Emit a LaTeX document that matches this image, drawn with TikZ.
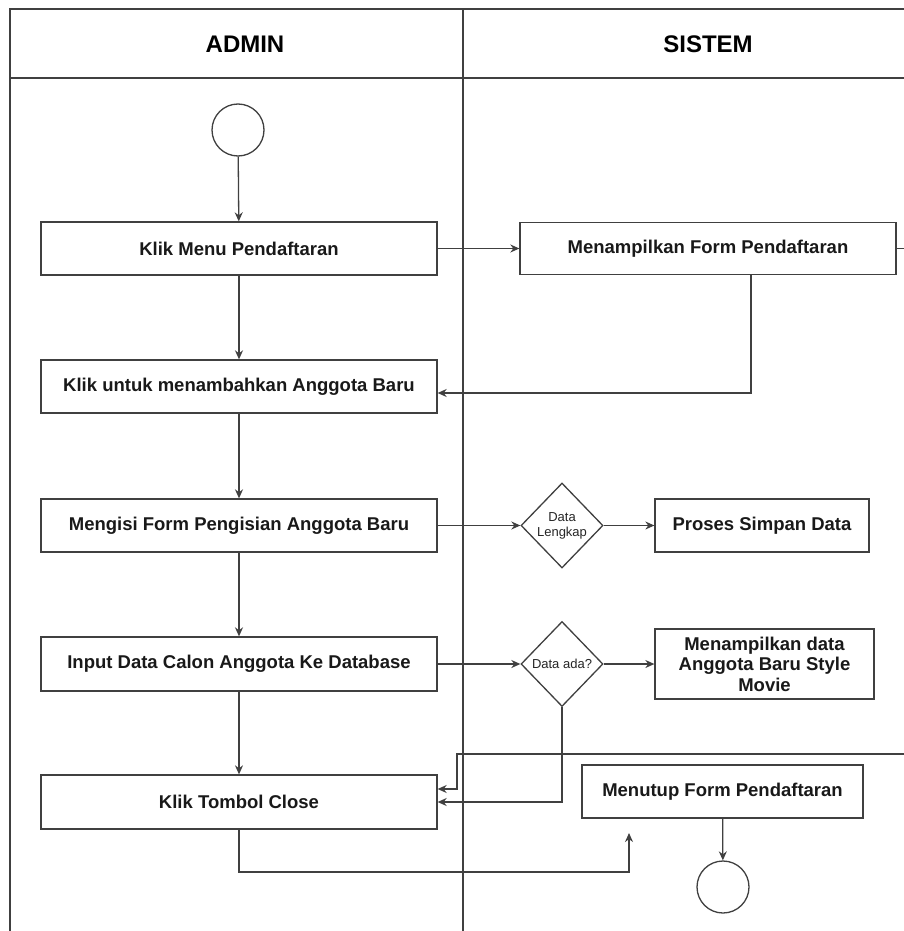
\documentclass[tikz,border=0pt]{standalone}
\usepackage{fontspec}
\setmainfont{Liberation Sans}
\usetikzlibrary{shapes.geometric,arrows.meta}
\begin{document}
\begin{tikzpicture}[x=1pt,y=-1pt,
  ln/.style={line width=1.3pt,draw=black!75},
  arr/.style={ln,-{Stealth[length=9pt,width=8pt]}},
  act/.style={draw=black!75,line width=1.3pt,rectangle,inner sep=2pt,align=center,
     font=\fontsize{18.5}{20.5}\selectfont\bfseries,text=black!90},
  dec/.style={draw=black!75,line width=1.3pt,diamond,inner sep=0pt,minimum width=82pt,
     minimum height=85pt,align=center,font=\fontsize{13}{15}\selectfont,text=black!85},
  terminal/.style={draw=black!75,line width=1.3pt,circle,minimum size=52pt,inner sep=0pt},
  hdr/.style={font=\fontsize{24}{26}\selectfont\bfseries,text=black}]
\useasboundingbox (0,0) rectangle (904,931);
\clip (0,0) rectangle (904,931);
\fill[white] (0,0) rectangle (904,931);
% swimlane frame
\draw[ln] (10,931) -- (10,9) -- (920,9);
\draw[ln] (10,78) -- (920,78);
\draw[ln] (463,9) -- (463,931);
\node[hdr] (hA) at (245,44) {ADMIN};
\node[hdr] (hS) at (708,44) {SISTEM};
% nodes
\node[terminal] (start) at (238,130) {};
\node[act,minimum width=396pt,minimum height=53pt] (a1) at (239,248.5) {Klik Menu Pendaftaran};
\node[act,minimum width=396pt,minimum height=53pt] (a2) at (239,386.5) {Klik untuk menambahkan Anggota Baru};
\node[act,minimum width=396pt,minimum height=53pt] (a3) at (239,525.5) {Mengisi Form Pengisian Anggota Baru};
\node[act,minimum width=396pt,minimum height=54pt] (a4) at (239,664) {Input Data Calon Anggota Ke Database};
\node[act,minimum width=396pt,minimum height=54pt] (a5) at (239,802) {Klik Tombol Close};
\node[act,minimum width=376pt,minimum height=52pt] (s1) at (708,248.5) {Menampilkan Form Pendaftaran};
\node[dec] (d1) at (562,525.5) {Data\\Lengkap};
\node[act,minimum width=214pt,minimum height=53pt] (s2) at (762,525.5) {Proses Simpan Data};
\node[dec] (d2) at (562,664) {Data ada?};
\node[act,minimum width=219pt,minimum height=70pt] (s3) at (764.5,664) {Menampilkan data\\Anggota Baru Style\\Movie};
\node[act,minimum width=281pt,minimum height=53pt] (s4) at (722.5,791.5) {Menutup Form Pendaftaran};
\node[terminal] (stop) at (723,887) {};
% helper coordinates
\coordinate (r1) at (915,754);
\coordinate (r2) at (457,754);
\coordinate (c0) at (629,872);
\coordinate (c1) at (629,833);
% connectors
\draw[arr] (start) -- (a1);
\draw[arr] (a1) -- (a2);
\draw[arr] (a2) -- (a3);
\draw[arr] (a3) -- (a4);
\draw[arr] (a4) -- (a5);
\draw[arr] (a1) -- (s1);
\draw[arr] ([xshift=43pt]s1.south) |- ([yshift=-6.5pt]a2.east);
\draw[arr] (a3) -- (d1);
\draw[arr] (d1) -- (s2);
\draw[arr] (a4) -- (d2);
\draw[arr] (d2) -- (s3);
\draw[arr] (d2.south) |- (a5.east);
\draw[arr] (s1.east) -| (r1) -- (r2) |- ([yshift=13pt]a5.east);
\draw[arr] (a5.south) |- (c0) -- (c1);
\draw[arr] (s4) -- (stop);
\end{tikzpicture}
\end{document}
